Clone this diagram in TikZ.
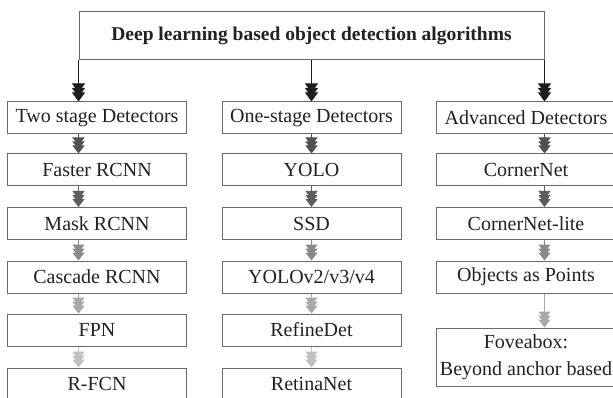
\documentclass[tikz,border=0pt]{standalone}
\usepackage{fontspec}
\setmainfont{Liberation Serif}
\usetikzlibrary{arrows.meta}
\definecolor{bordc}{HTML}{6A6A6A}
\definecolor{txtc}{HTML}{222222}
\definecolor{lvA}{HTML}{1E1E1E}
\definecolor{lvB}{HTML}{505050}
\definecolor{lvC}{HTML}{5E5E5E}
\definecolor{lvD}{HTML}{8A8A8A}
\definecolor{lvE}{HTML}{A8A8A8}
\definecolor{lvF}{HTML}{C0C0C0}
\tikzset{
  algbox/.style={draw=bordc, line width=1pt, minimum width=179pt, minimum height=32pt,
    inner sep=0pt, text=txtc, font=\fontsize{20}{27}\selectfont, align=center},
  toparrow/.style={draw=#1, line width=1pt,
    -{Triangle[width=13pt,length=9pt,sep=-4.5pt,fill=#1]Triangle[width=13pt,length=9pt,sep=-4.5pt,fill=#1]Triangle[width=13pt,length=9pt,fill=#1]}},
  midarrow/.style={draw=#1, line width=1pt,
    -{Triangle[width=12pt,length=8pt,sep=-4pt,fill=#1]Triangle[width=12pt,length=8pt,sep=-4pt,fill=#1]Triangle[width=12pt,length=8pt,fill=#1]}},
}
\begin{document}
\begin{tikzpicture}[x=1pt,y=-1pt]
\useasboundingbox (0,0) rectangle (613,398);
\clip (0,0) rectangle (613,398);
\fill[white] (0,0) rectangle (613,398);
\node[draw=bordc, line width=1pt, minimum width=465pt, minimum height=48pt, inner sep=0pt,
  text=txtc, font=\fontsize{19.5}{22}\selectfont\bfseries] (title) at (311.5,36)
  {Deep learning based object detection algorithms};
% column 1
\node[algbox] (c1a) at (97,118) {Two stage Detectors};
\node[algbox] (c1b) at (97,170) {Faster RCNN};
\node[algbox] (c1c) at (97,223.5) {Mask RCNN};
\node[algbox] (c1d) at (97,277) {Cascade RCNN};
\node[algbox] (c1e) at (97,330) {FPN};
\node[algbox] (c1f) at (97,384) {R-FCN};
% column 2
\node[algbox] (c2a) at (311.5,118) {One-stage Detectors};
\node[algbox] (c2b) at (311.5,170) {YOLO};
\node[algbox] (c2c) at (311.5,223.5) {SSD};
\node[algbox] (c2d) at (311.5,277) {YOLOv2/v3/v4};
\node[algbox] (c2e) at (311.5,330) {RefineDet};
\node[algbox] (c2f) at (311.5,384) {RetinaNet};
% column 3
\node[algbox] (c3a) at (526,118) {Advanced Detectors};
\node[algbox] (c3b) at (526,170) {CornerNet};
\node[algbox] (c3c) at (526,223.5) {CornerNet-lite};
\node[algbox] (c3d) at (526,277) {Objects as Points};
\node[algbox, minimum height=58pt, text depth=3pt] (c3e) at (526,357) {Foveabox:\\Beyond anchor based};
% top arrows
\draw[toparrow=lvA] (title.south west) -- (title.south west |- c1a.north);
\draw[toparrow=lvA] (title.south) -- (c2a.north);
\draw[toparrow=lvA] (title.south east) -- (title.south east |- c3a.north);
% column 1 arrows
\draw[midarrow=lvB] (title.south west |- c1a.south) -- (title.south west |- c1b.north);
\draw[midarrow=lvC] (title.south west |- c1b.south) -- (title.south west |- c1c.north);
\draw[midarrow=lvD] (title.south west |- c1c.south) -- (title.south west |- c1d.north);
\draw[midarrow=lvE] (title.south west |- c1d.south) -- (title.south west |- c1e.north);
\draw[midarrow=lvF] (title.south west |- c1e.south) -- (title.south west |- c1f.north);
% column 2 arrows
\draw[midarrow=lvB] (c2a.south) -- (c2b.north);
\draw[midarrow=lvC] (c2b.south) -- (c2c.north);
\draw[midarrow=lvD] (c2c.south) -- (c2d.north);
\draw[midarrow=lvE] (c2d.south) -- (c2e.north);
\draw[midarrow=lvF] (c2e.south) -- (c2f.north);
% column 3 arrows
\draw[midarrow=lvB] (title.south east |- c3a.south) -- (title.south east |- c3b.north);
\draw[midarrow=lvC] (title.south east |- c3b.south) -- (title.south east |- c3c.north);
\draw[midarrow=lvD] (title.south east |- c3c.south) -- (title.south east |- c3d.north);
\draw[midarrow=lvE] (title.south east |- c3d.south) -- (title.south east |- c3e.north);
\end{tikzpicture}
\end{document}
